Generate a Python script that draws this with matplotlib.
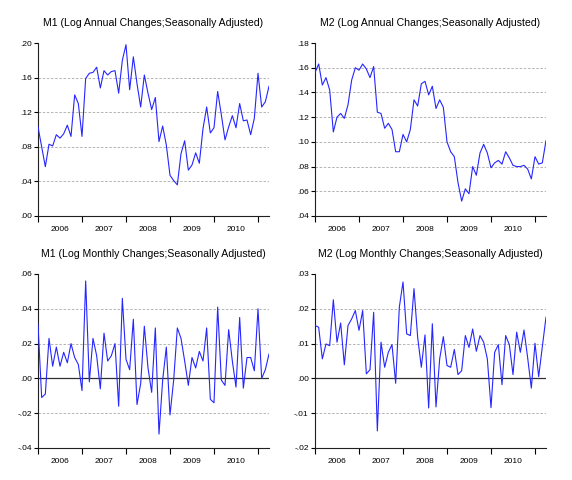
import matplotlib
matplotlib.use("Agg")
import matplotlib.pyplot as plt
import numpy as np
from matplotlib.ticker import FuncFormatter, FixedLocator

plt.rcParams['font.family'] = ['Liberation Sans', 'DejaVu Sans']

start_year = 2006
years = [2006, 2007, 2008, 2009, 2010]

m1_annual = [0.103, 0.080, 0.057, 0.083, 0.081, 0.094, 0.090, 0.095, 0.105, 0.092, 0.140, 0.130,
             0.092, 0.159, 0.165, 0.166, 0.172, 0.148, 0.168, 0.163, 0.167, 0.168, 0.142, 0.180,
             0.198, 0.146, 0.184, 0.153, 0.126, 0.163, 0.142, 0.123, 0.137, 0.086, 0.104, 0.082,
             0.047, 0.041, 0.036, 0.072, 0.087, 0.053, 0.059, 0.073, 0.061, 0.101, 0.126, 0.096,
             0.102, 0.144, 0.117, 0.088, 0.103, 0.116, 0.102, 0.130, 0.110, 0.111, 0.094, 0.113,
             0.165, 0.126, 0.132, 0.150]

m2_annual = [0.156, 0.163, 0.146, 0.152, 0.142, 0.108, 0.120, 0.123, 0.119, 0.130, 0.150, 0.160,
             0.158, 0.163, 0.159, 0.152, 0.161, 0.124, 0.123, 0.111, 0.115, 0.110, 0.092, 0.092,
             0.106, 0.100, 0.110, 0.134, 0.129, 0.147, 0.149, 0.138, 0.145, 0.127, 0.134, 0.128,
             0.100, 0.092, 0.088, 0.067, 0.052, 0.062, 0.058, 0.080, 0.073, 0.091, 0.098, 0.091,
             0.079, 0.083, 0.085, 0.082, 0.092, 0.087, 0.081, 0.080, 0.080, 0.081, 0.078, 0.070,
             0.088, 0.082, 0.083, 0.101]

m1_monthly = [0.031, -0.011, -0.009, 0.023, 0.007, 0.018, 0.007, 0.015, 0.009, 0.020, 0.012, 0.008,
              -0.007, 0.056, -0.002, 0.023, 0.013, -0.006, 0.026, 0.010, 0.013, 0.020, -0.016, 0.046,
              0.011, 0.005, 0.034, -0.015, -0.003, 0.030, 0.006, -0.008, 0.029, -0.032, -0.001, 0.018,
              -0.021, -0.001, 0.029, 0.023, 0.010, -0.004, 0.012, 0.006, 0.0155, 0.010, 0.029, -0.012,
              -0.014, 0.041, -0.001, -0.004, 0.028, 0.010, -0.005, 0.035, -0.0056, 0.012, 0.012, 0.0044,
              0.040, 0.000, 0.005, 0.014]

m2_monthly = [0.0152, 0.0147, 0.0056, 0.0099, 0.0094, 0.0226, 0.0104, 0.0159, 0.0039, 0.0152, 0.0171, 0.0195,
              0.0138, 0.0195, 0.0013, 0.0025, 0.0190, -0.0151, 0.0104, 0.0032, 0.0075, 0.0097, -0.0014, 0.0205,
              0.0277, 0.0128, 0.0123, 0.0258, 0.0118, 0.0032, 0.0125, -0.0085, 0.0157, -0.0082, 0.0056, 0.0120,
              0.0037, 0.0032, 0.0083, 0.0011, 0.0022, 0.0123, 0.0089, 0.0142, 0.0078, 0.0123, 0.0104, 0.0056,
              -0.0084, 0.0075, 0.0097, -0.0018, 0.0123, 0.0097, 0.0011, 0.0133, 0.0075, 0.0139, 0.0059, -0.0028,
              0.0101, 0.0005, 0.0091, 0.0176]

titles = ["M1 (Log Annual Changes;Seasonally Adjusted)",
          "M2 (Log Annual Changes;Seasonally Adjusted)",
          "M1 (Log Monthly Changes;Seasonally Adjusted)",
          "M2 (Log Monthly Changes;Seasonally Adjusted)"]
yticks_list = [[0.00, 0.04, 0.08, 0.12, 0.16, 0.20],
               [0.04, 0.06, 0.08, 0.10, 0.12, 0.14, 0.16, 0.18],
               [-0.04, -0.02, 0.00, 0.02, 0.04, 0.06],
               [-0.02, -0.01, 0.00, 0.01, 0.02, 0.03]]
series = [m1_annual, m2_annual, m1_monthly, m2_monthly]
zero_line = [False, False, True, True]

W, H = 572, 480
fig = plt.figure(figsize=(W / 100, H / 100), dpi=100)

# axes rectangles in pixels: left, top, right, bottom
rects = [(38, 43, 269, 216), (315, 43, 546, 216),
         (38, 274, 269, 448), (315, 274, 546, 448)]


def fmt(v, pos=None):
    s = "%.2f" % v
    if s.startswith("0"):
        s = s[1:]
    elif s.startswith("-0"):
        s = "-" + s[2:]
    return s


for k in range(4):
    l, t, r, b = rects[k]
    ax = fig.add_axes([l / W, 1 - b / H, (r - l) / W, (b - t) / H])
    vals = series[k]
    x = start_year + np.arange(len(vals)) / 12.0
    ax.plot(x, vals, color='#2626ff', lw=0.8, zorder=3)
    yt = yticks_list[k]
    ax.set_ylim(yt[0], yt[-1])
    ax.set_xlim(start_year, x[-1])
    for v in yt[1:-1]:
        if zero_line[k] and abs(v) < 1e-12:
            ax.axhline(v, color='#303030', lw=0.9, zorder=2)
        else:
            ax.axhline(v, color='#a8a8a8', lw=0.6, ls=(0, (3, 2)), zorder=1)
    ax.set_yticks(yt)
    ax.yaxis.set_major_formatter(FuncFormatter(fmt))
    ax.xaxis.set_major_locator(FixedLocator(years + [2011]))
    ax.xaxis.set_minor_locator(FixedLocator([y + 0.5 for y in years]))
    ax.set_xticklabels([])
    ax.set_xticklabels([str(y) for y in years], minor=True)
    ax.tick_params(axis='x', which='major', length=4, width=0.8, direction='out')
    ax.tick_params(axis='x', which='minor', length=0, labelsize=6, pad=7)
    ax.tick_params(axis='y', which='major', length=3, width=0.8, labelsize=6, pad=1.5)
    for s in ['top', 'right']:
        ax.spines[s].set_visible(False)
    for s in ['left', 'bottom']:
        ax.spines[s].set_linewidth(0.8)
        ax.spines[s].set_color('#202020')
    ax.set_title(titles[k], fontsize=7.6, pad=12)

fig.savefig("out.png", dpi=100)
